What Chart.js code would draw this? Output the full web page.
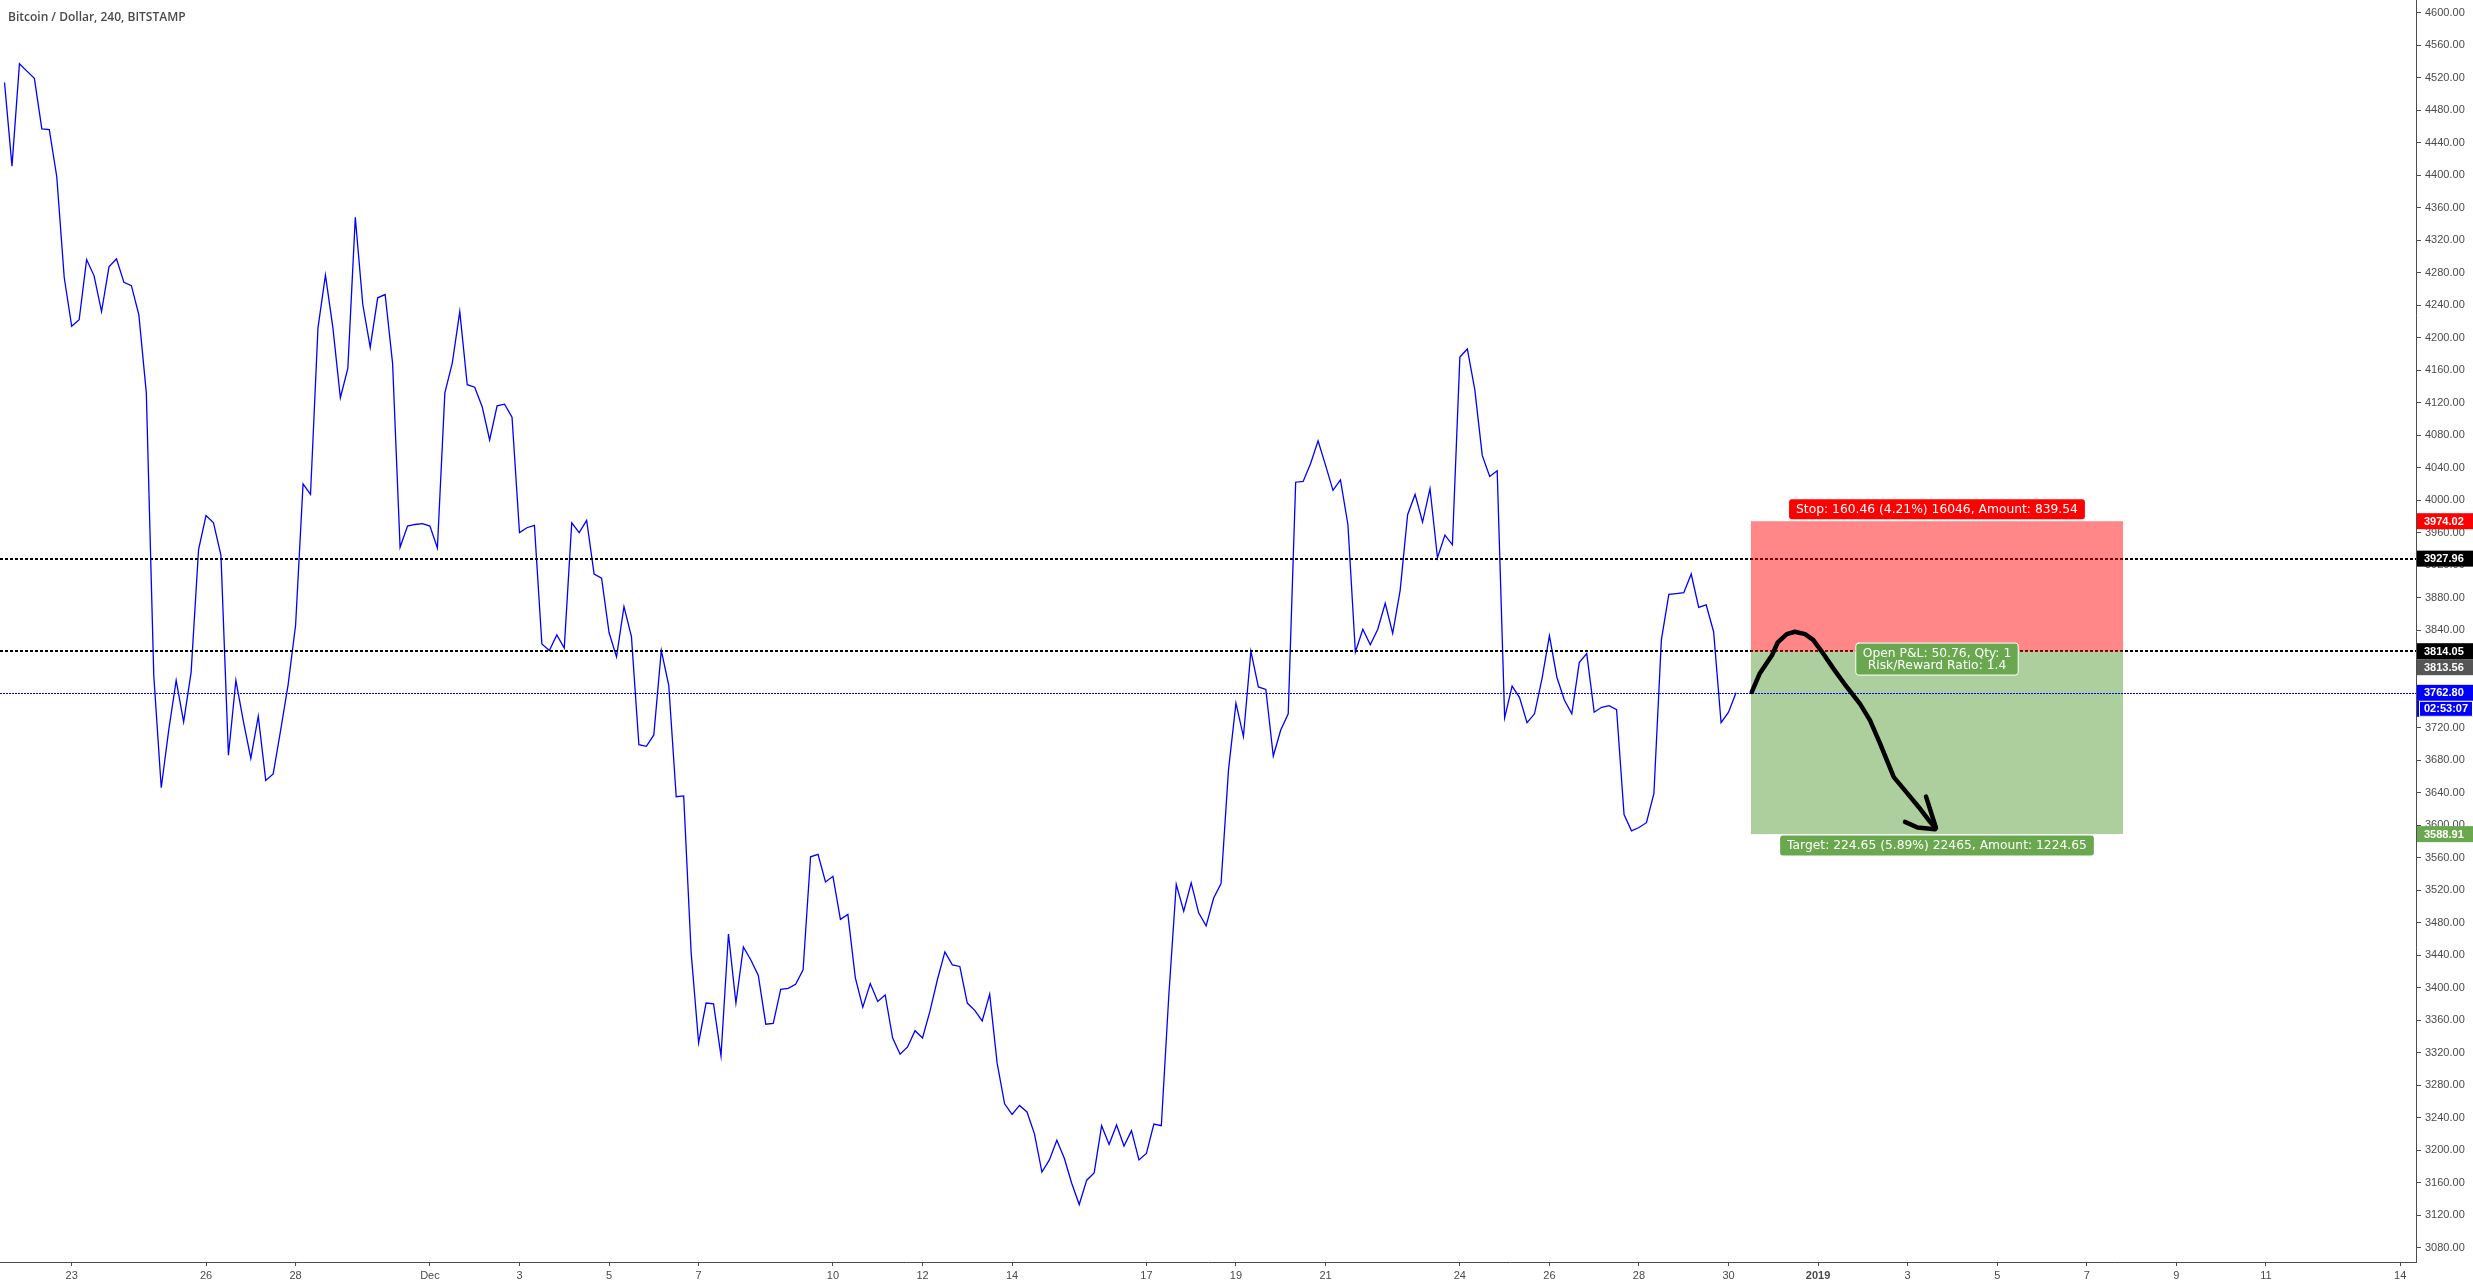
<!DOCTYPE html>
<html>
<head>
<meta charset="utf-8">
<title>Bitcoin / Dollar, 240, BITSTAMP</title>
<script src="https://cdn.jsdelivr.net/npm/chart.js@4.4.1/dist/chart.umd.min.js"></script>
<style>
  html, body { margin: 0; padding: 0; background: #ffffff; overflow: hidden; }
  canvas { display: block; }
</style>
</head>
<body>
<canvas id="chart" width="2473" height="1287"></canvas>
<script>
// Symbol header
const titleText = 'Bitcoin / Dollar, 240, BITSTAMP';

// 4h closes, first bar on 21 Nov 12:00 (hours counted from 23 Nov 00:00)
const startHour = -36;
const barHours = 4;
const closes = [
  4514, 4411, 4537, 4528, 4519, 4457, 4456, 4398, 4274, 4214, 4222, 4296,
  4276, 4232, 4287, 4297, 4268, 4264, 4228, 4132, 3784, 3646, 3717, 3778,
  3727, 3788, 3939, 3981, 3972, 3932, 3686, 3778, 3728, 3682, 3734, 3655,
  3663, 3717, 3773, 3846, 4020, 4007, 4212, 4277, 4212, 4126, 4162, 4348,
  4241, 4188, 4249, 4253, 4168, 3942, 3968, 3970, 3971, 3968, 3941, 4132,
  4169, 4232, 4142, 4139, 4115, 4074, 4116, 4118, 4102, 3960, 3966, 3969,
  3823, 3815, 3834, 3818, 3972, 3960, 3975, 3909, 3904, 3837, 3807, 3869,
  3832, 3699, 3697, 3711, 3815, 3772, 3635, 3636, 3443, 3332, 3381, 3380,
  3316, 3466, 3381, 3450, 3434, 3415, 3355, 3356, 3398, 3399, 3404, 3422,
  3561, 3564, 3530, 3537, 3484, 3490, 3412, 3376, 3405, 3383, 3391, 3338,
  3318, 3327, 3347, 3338, 3371, 3410, 3444, 3428, 3426, 3381, 3372, 3359,
  3392, 3307, 3257, 3244, 3255, 3247, 3220, 3173, 3188, 3212, 3190, 3159,
  3133, 3163, 3172, 3230, 3207, 3231, 3205, 3224, 3188, 3196, 3232, 3230,
  3390, 3527, 3494, 3529, 3492, 3476, 3510, 3528, 3668, 3750, 3709, 3814,
  3770, 3767, 3685, 3717, 3737, 4022, 4023, 4045, 4073, 4043, 4012, 4025,
  3970, 3813, 3841, 3822, 3841, 3873, 3836, 3889, 3982, 4007, 3973, 4014,
  3929, 3957, 3945, 4176, 4186, 4136, 4055, 4029, 4036, 3732, 3771, 3757,
  3726, 3737, 3780, 3833, 3782, 3754, 3737, 3800, 3811, 3739, 3745, 3747,
  3742, 3613, 3593, 3597, 3603, 3639, 3828, 3884, 3885, 3886, 3909, 3868,
  3871, 3838, 3726, 3739, 3762.80
];

// Time axis: days from 23 Nov and their labels
const xTickDays   = [0, 3, 5, 8, 10, 12, 14, 17, 19, 21, 24, 26, 28, 31, 33, 35, 37, 39, 41, 43, 45, 47, 49, 52];
const xTickLabels = ['23', '26', '28', 'Dec', '3', '5', '7', '10', '12', '14', '17', '19', '21', '24', '26', '28', '30', '2019', '3', '5', '7', '9', '11', '14'];

// Price axis
const yTickStep = 40;
const yTickFirst = 3080;
const yTickLast = 4600;

// Horizontal levels and live price
const levelPrices = [3927.96, 3814.05];
const lastPrice = 3762.80;
const countdownText = '02:53:07';

// Short position tool
const positionDays = [37.5, 45.81];
const stopPrice = 3974.02;
const entryPrice = 3813.56;
const targetPrice = 3588.91;
const stopText = 'Stop: 160.46 (4.21%) 16046, Amount: 839.54';
const pnlLines = ['Open P&L: 50.76, Qty: 1', 'Risk/Reward Ratio: 1.4'];
const targetText = 'Target: 224.65 (5.89%) 22465, Amount: 1224.65';

// Hand drawn arrow (days, price)
const sketchDays   = [37.52, 37.70, 37.97, 38.10, 38.30, 38.48, 38.71, 38.89, 39.09, 39.35, 39.64, 39.94, 40.16, 40.38, 40.69, 40.98, 41.25, 41.50, 41.63];
const sketchPrices = [3764, 3787, 3809, 3825, 3835, 3838, 3835, 3828, 3813, 3792, 3770, 3749, 3729, 3701, 3659, 3640, 3622, 3604, 3596];
const arrowLegA = [[41.41, 3635], [41.63, 3597]];
const arrowLegB = [[40.94, 3604], [41.22, 3597], [41.61, 3595]];

// visible window
const xMin = -1.601, xMax = 52.352;
const yMin = 3062.3, yMax = 4615.5;

const axisColor = '#4c4c4c';
const labelColor = '#4a4a4a';
const axisFont = '"Liberation Sans", Arial, sans-serif';
const toolFont = '"DejaVu Sans", Verdana, sans-serif';

const points = closes.map((c, i) => ({ x: (startHour + i * barHours) / 24, y: c }));

function axisBox(ctx, area, yPix, text, bg, border) {
    const h = 16;
    const left = area.right + 1;
    ctx.fillStyle = bg;
    ctx.fillRect(left, yPix - h / 2, 2473 - left, h);
    if (border) {
        ctx.strokeStyle = border;
        ctx.lineWidth = 1;
        ctx.strokeRect(left + 2.5, yPix - h / 2 + 0.5, 2473 - left - 3, h - 1);
    }
    ctx.fillStyle = '#ffffff';
    ctx.font = 'bold 11px ' + axisFont;
    ctx.textAlign = 'left';
    ctx.textBaseline = 'middle';
    ctx.fillText(text, area.right + 8, yPix + 0.5);
}

function toolLabel(ctx, cx, top, lines, bg, border) {
    ctx.font = '12.3px ' + toolFont;
    const w = Math.max(...lines.map(t => ctx.measureText(t).width)) + 14;
    const lh = 12;
    const h = lines.length === 1 ? 20 : 8 + lines.length * lh;
    ctx.beginPath();
    ctx.roundRect(cx - w / 2, top, w, h, 3);
    ctx.fillStyle = bg;
    ctx.fill();
    if (border) {
        ctx.strokeStyle = border;
        ctx.lineWidth = 1;
        ctx.stroke();
    }
    ctx.fillStyle = '#ffffff';
    ctx.textAlign = 'center';
    ctx.textBaseline = 'middle';
    lines.forEach((t, i) => {
        const y = lines.length === 1 ? top + h / 2 + 0.5 : top + 4 + lh / 2 + i * lh + 1;
        ctx.fillText(t, cx, y);
    });
}

const overlay = {
    id: 'overlay',
    afterDraw(chart) {
        const { ctx, chartArea: a } = chart;
        const x = chart.scales.x, y = chart.scales.y;

        ctx.save();
        ctx.beginPath();
        ctx.rect(a.left, a.top, a.right - a.left, a.bottom - a.top);
        ctx.clip();

        // dashed levels
        ctx.strokeStyle = '#000000';
        ctx.lineWidth = 2;
        ctx.setLineDash([3, 2]);
        levelPrices.forEach(p => {
            const py = Math.round(y.getPixelForValue(p));
            ctx.beginPath();
            ctx.moveTo(a.left, py);
            ctx.lineTo(a.right, py);
            ctx.stroke();
        });
        ctx.setLineDash([]);

        // position zones
        const x0 = x.getPixelForValue(positionDays[0]);
        const x1 = x.getPixelForValue(positionDays[1]);
        const ys = y.getPixelForValue(stopPrice);
        const ye = y.getPixelForValue(entryPrice);
        const yt = y.getPixelForValue(targetPrice);
        ctx.fillStyle = 'rgba(255, 0, 0, 0.47)';
        ctx.fillRect(x0, ys, x1 - x0, ye - ys);
        ctx.fillStyle = 'rgba(106, 168, 79, 0.55)';
        ctx.fillRect(x0, ye, x1 - x0, yt - ye);

        // last price line
        const yl = Math.round(y.getPixelForValue(lastPrice)) + 0.5;
        ctx.strokeStyle = '#0000ff';
        ctx.lineWidth = 1;
        ctx.setLineDash([2, 1]);
        ctx.beginPath();
        ctx.moveTo(a.left, yl);
        ctx.lineTo(a.right, yl);
        ctx.stroke();
        ctx.setLineDash([]);

        // hand drawn arrow
        ctx.strokeStyle = '#000000';
        ctx.lineWidth = 4.5;
        ctx.lineCap = 'round';
        ctx.lineJoin = 'round';
        ctx.beginPath();
        sketchDays.forEach((d, i) => {
            const px = x.getPixelForValue(d), py = y.getPixelForValue(sketchPrices[i]);
            if (i === 0) ctx.moveTo(px, py); else ctx.lineTo(px, py);
        });
        ctx.stroke();
        [arrowLegA, arrowLegB].forEach(leg => {
            ctx.beginPath();
            leg.forEach((p, i) => {
                const px = x.getPixelForValue(p[0]), py = y.getPixelForValue(p[1]);
                if (i === 0) ctx.moveTo(px, py); else ctx.lineTo(px, py);
            });
            ctx.stroke();
        });

        // position labels
        const cx = (x0 + x1) / 2;
        toolLabel(ctx, cx, ys - 22, [stopText], '#ff0000', null);
        toolLabel(ctx, cx, ye - 8.5, pnlLines, '#6aa84f', '#ffffff');
        toolLabel(ctx, cx, yt + 1.5, [targetText], '#6aa84f', null);
        ctx.restore();

        // price axis boxes
        ctx.save();
        axisBox(ctx, a, y.getPixelForValue(stopPrice), stopPrice.toFixed(2), '#ff0000');
        axisBox(ctx, a, y.getPixelForValue(levelPrices[0]), levelPrices[0].toFixed(2), '#000000');
        const yLevel2 = y.getPixelForValue(levelPrices[1]);
        axisBox(ctx, a, yLevel2, levelPrices[1].toFixed(2), '#000000');
        axisBox(ctx, a, yLevel2 + 16, entryPrice.toFixed(2), '#555555');
        const yLast = y.getPixelForValue(lastPrice);
        axisBox(ctx, a, yLast, lastPrice.toFixed(2), '#0000ff');
        axisBox(ctx, a, yLast + 16, countdownText, '#0000ff', '#ffffff');
        axisBox(ctx, a, y.getPixelForValue(targetPrice), targetPrice.toFixed(2), '#6aa84f');

        // header
        ctx.font = '600 12px "Open Sans", sans-serif';
        ctx.fillStyle = '#4a4a4a';
        ctx.textAlign = 'left';
        ctx.textBaseline = 'alphabetic';
        ctx.fillText(titleText, 8, 21);
        ctx.restore();
    }
};

function noPadding(scale) {
    scale.paddingTop = 0;
    scale.paddingBottom = 0;
    scale.paddingLeft = 0;
    scale.paddingRight = 0;
}

new Chart(document.getElementById('chart').getContext('2d'), {
    type: 'line',
    data: {
        datasets: [{
            data: points,
            borderColor: '#0000ff',
            borderWidth: 1.3,
            pointRadius: 0,
            tension: 0,
            fill: false
        }]
    },
    options: {
        responsive: false,
        animation: false,
        devicePixelRatio: 1,
        layout: { padding: 0 },
        plugins: {
            legend: { display: false },
            tooltip: { enabled: false },
            title: { display: false }
        },
        scales: {
            x: {
                type: 'linear',
                position: 'bottom',
                min: xMin,
                max: xMax,
                afterBuildTicks: s => { s.ticks = xTickDays.map(v => ({ value: v })); },
                afterFit: s => { s.height = 25; noPadding(s); },
                grid: { drawOnChartArea: false, drawTicks: true, tickLength: 4, color: axisColor },
                border: { display: true, color: axisColor, width: 1 },
                ticks: {
                    autoSkip: false,
                    maxRotation: 0,
                    padding: 3,
                    color: labelColor,
                    font: ctx => ({
                        family: axisFont,
                        size: 11,
                        weight: xTickLabels[ctx.index] === '2019' ? 'bold' : 'normal'
                    }),
                    callback: (v, i) => xTickLabels[i]
                }
            },
            y: {
                type: 'linear',
                position: 'right',
                min: yMin,
                max: yMax,
                afterBuildTicks: s => {
                    const t = [];
                    for (let v = yTickFirst; v <= yTickLast; v += yTickStep) t.push({ value: v });
                    s.ticks = t;
                },
                afterFit: s => { s.width = 57; noPadding(s); },
                grid: { drawOnChartArea: false, drawTicks: true, tickLength: 5, color: axisColor },
                border: { display: true, color: axisColor, width: 1 },
                ticks: {
                    autoSkip: false,
                    padding: 4,
                    color: labelColor,
                    font: { family: axisFont, size: 11 },
                    callback: v => Number(v).toFixed(2)
                }
            }
        }
    },
    plugins: [overlay]
});
</script>
</body>
</html>
